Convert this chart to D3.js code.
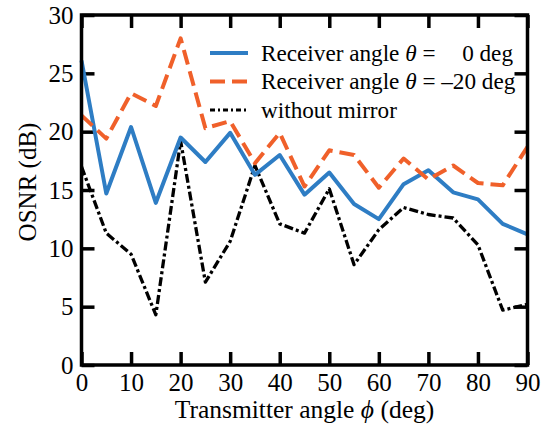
<!DOCTYPE html>
<html>
<head>
<meta charset="utf-8">
<script src="https://cdn.jsdelivr.net/npm/d3@7"></script>
<style>
  body { margin: 0; background: #fff; }
  svg text { font-family: "Liberation Serif", "Times New Roman", serif; fill: #000; }
</style>
</head>
<body>
<div id="chart"></div>
<script>
// transmitter angle (deg)
const angles = [0, 5, 10, 15, 20, 25, 30, 35, 40, 45, 50, 55, 60, 65, 70, 75, 80, 85, 90];
// OSNR (dB) for each case
const osnrRecv0 = [26.1, 14.7, 20.4, 13.9, 19.5, 17.4, 19.9, 16.3, 18.0, 14.6, 16.5, 13.8, 12.5, 15.5, 16.7, 14.8, 14.2, 12.1, 11.2];
const osnrRecv20 = [21.4, 19.4, 23.3, 22.2, 28.0, 20.3, 20.9, 17.3, 19.9, 15.3, 18.4, 18.0, 15.2, 17.7, 15.9, 17.1, 15.6, 15.4, 18.7];
const osnrNoMirror = [17.0, 11.3, 9.5, 4.3, 19.2, 7.1, 10.6, 17.1, 12.1, 11.3, 15.1, 8.6, 11.6, 13.5, 12.9, 12.6, 10.3, 4.7, 5.2];
const xTicks = [0, 10, 20, 30, 40, 50, 60, 70, 80, 90];
const yTicks = [0, 5, 10, 15, 20, 25, 30];

const width = 550, height = 426;
const margin = {top: 15, right: 22.5, bottom: 61, left: 81.5};
const w = width - margin.left - margin.right;
const h = height - margin.top - margin.bottom;

const svg = d3.select('#chart').append('svg')
    .attr('width', width)
    .attr('height', height);

const plot = svg.append('g')
    .attr('transform', `translate(${margin.left},${margin.top})`);

const x = d3.scaleLinear().domain([0, 90]).range([0, w]);
const y = d3.scaleLinear().domain([0, 30]).range([h, 0]);

// axes, ticks pointing inward on all four sides
const tickLen = 13;
const styleAxis = g => {
    g.select('.domain').remove();
    g.selectAll('.tick line').attr('stroke', '#000').attr('stroke-width', 3.5);
    g.selectAll('.tick text').style('font-size', '25px');
};

plot.append('g')
    .attr('transform', `translate(0,${h})`)
    .call(d3.axisBottom(x).tickValues(xTicks).tickSizeInner(-tickLen).tickSizeOuter(0).tickPadding(8))
    .call(styleAxis);

plot.append('g')
    .call(d3.axisLeft(y).tickValues(yTicks).tickSizeInner(-tickLen).tickSizeOuter(0).tickPadding(8))
    .call(styleAxis);

plot.append('g')
    .call(d3.axisTop(x).tickValues(xTicks).tickSizeInner(-tickLen).tickSizeOuter(0).tickFormat(''))
    .call(styleAxis);

plot.append('g')
    .attr('transform', `translate(${w},0)`)
    .call(d3.axisRight(y).tickValues(yTicks).tickSizeInner(-tickLen).tickSizeOuter(0).tickFormat(''))
    .call(styleAxis);

// data lines
const series = [
    {values: osnrNoMirror, color: '#000', width: 3.3, dash: '9,3,3,3'},
    {values: osnrRecv0, color: '#2E7DC4', width: 4, dash: null},
    {values: osnrRecv20, color: '#F0602A', width: 4, dash: '15,7'}
];

const line = d3.line()
    .x(d => x(d[0]))
    .y(d => y(d[1]));

series.forEach(s => {
    plot.append('path')
        .datum(angles.map((a, i) => [a, s.values[i]]))
        .attr('d', line)
        .attr('fill', 'none')
        .attr('stroke', s.color)
        .attr('stroke-width', s.width)
        .attr('stroke-dasharray', s.dash)
        .attr('stroke-linejoin', 'round');
});

// frame
plot.append('rect')
    .attr('width', w)
    .attr('height', h)
    .attr('fill', 'none')
    .attr('stroke', '#000')
    .attr('stroke-width', 3.5);

// legend
const legend = svg.append('g').attr('transform', 'translate(210,53)');
const legendRows = [
    {color: '#2E7DC4', width: 4, dash: null, label: ['Receiver angle ', 'θ', ' =', '0 deg']},
    {color: '#F0602A', width: 4, dash: '15,7', label: ['Receiver angle ', 'θ', ' = ', '–20 deg']},
    {color: '#000', width: 3, dash: '5,3,2,3', label: ['without mirror']}
];
legendRows.forEach((r, i) => {
    const row = legend.append('g').attr('transform', `translate(0,${i * 28.5})`);
    row.append('line')
        .attr('x1', 0).attr('x2', 38)
        .attr('stroke', r.color)
        .attr('stroke-width', r.width)
        .attr('stroke-dasharray', r.dash);
    const t = row.append('text')
        .attr('x', 51)
        .attr('y', 7.5)
        .style('font-size', '23.2px');
    if (r.label.length === 1) {
        t.text(r.label[0]);
    } else {
        t.append('tspan').text(r.label[0]);
        t.append('tspan').style('font-style', 'italic').text(r.label[1]);
        t.append('tspan').text(r.label[2]);
        if (i === 0) {
            row.append('text')
                .attr('x', 303)
                .attr('y', 7.5)
                .attr('text-anchor', 'end')
                .style('font-size', '23.2px')
                .text(r.label[3]);
        } else {
            t.append('tspan').text(r.label[3]);
        }
    }
});

// axis titles
const xTitle = svg.append('text')
    .attr('x', margin.left + w / 2)
    .attr('y', 418)
    .attr('text-anchor', 'middle')
    .style('font-size', '25.5px');
xTitle.append('tspan').text('Transmitter angle ');
xTitle.append('tspan').style('font-style', 'italic').text('ϕ');
xTitle.append('tspan').text(' (deg)');

svg.append('text')
    .attr('transform', `translate(36,182) rotate(-90)`)
    .attr('text-anchor', 'middle')
    .style('font-size', '25px')
    .text('OSNR (dB)');
</script>
</body>
</html>
